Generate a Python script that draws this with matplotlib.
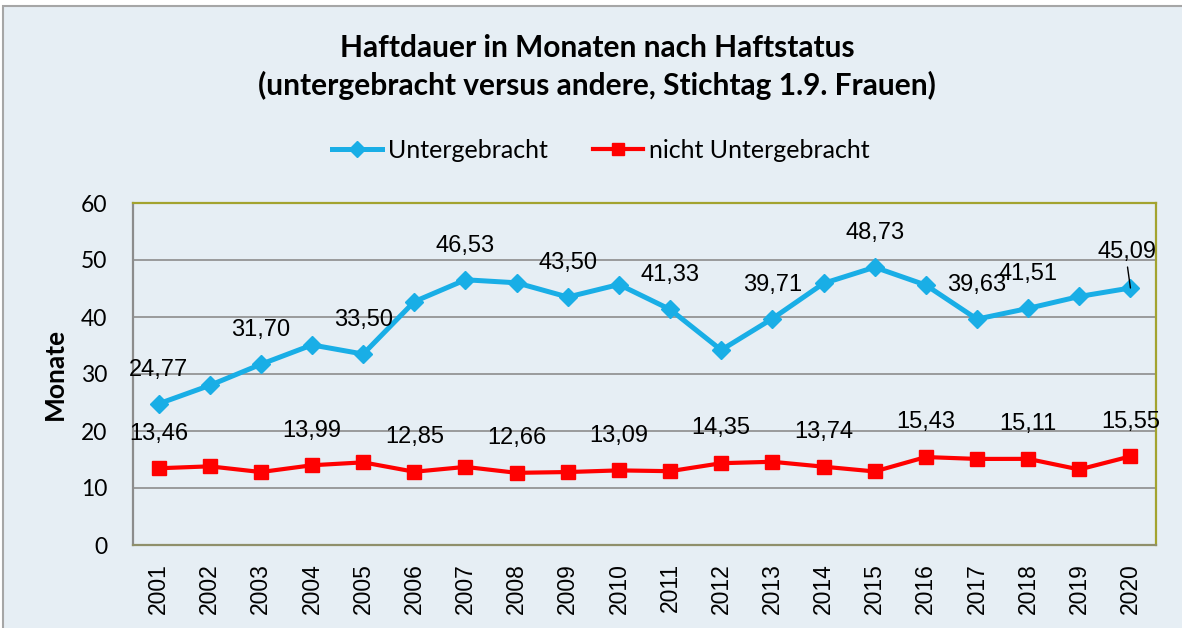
import matplotlib
matplotlib.use("Agg")
import matplotlib.pyplot as plt
from matplotlib.patches import Rectangle
from matplotlib.lines import Line2D

# --- data -------------------------------------------------------------
years = ["2001", "2002", "2003", "2004", "2005", "2006", "2007", "2008", "2009", "2010",
         "2011", "2012", "2013", "2014", "2015", "2016", "2017", "2018", "2019", "2020"]
untergebracht = [24.77, 28.0, 31.70, 35.1, 33.50, 42.7, 46.53, 46.0, 43.50, 45.7,
                 41.33, 34.2, 39.71, 45.9, 48.73, 45.6, 39.63, 41.51, 43.6, 45.09]
nicht_untergebracht = [13.46, 13.8, 12.8, 13.99, 14.5, 12.85, 13.7, 12.66, 12.8, 13.09,
                       12.95, 14.35, 14.6, 13.74, 12.9, 15.43, 15.1, 15.11, 13.25, 15.55]
# indices of points carrying a value label
labels_unter = [0, 2, 4, 6, 8, 10, 12, 14, 16, 17, 19]
labels_nicht = [0, 3, 5, 7, 9, 11, 13, 15, 17, 19]

title_lines = ["Haftdauer in Monaten nach Haftstatus",
               "(untergebracht versus andere, Stichtag 1.9. Frauen)"]
series_names = ["Untergebracht", "nicht Untergebracht"]
y_label = "Monate"
y_ticks = [0, 10, 20, 30, 40, 50, 60]

# --- styling ----------------------------------------------------------
BG = "#E6EEF4"
BLUE = "#19AEE6"
RED = "#FF0000"
GRID = "#8C8C8C"
OLIVE = "#A3A32E"
NUM_FONT = "Liberation Sans"
TXT_FONT = "Lato"

W, H = 1182, 628
fig = plt.figure(figsize=(W / 100, H / 100), dpi=100, facecolor="white")

# chart frame
fig.patches.append(Rectangle((3 / W, -0.1), 1.2, 1 - 6 / H + 0.1, transform=fig.transFigure,
                             facecolor=BG, edgecolor="#A6A6A6", linewidth=1.5, zorder=-5))

left, right, top, bottom = 133, 1156, 203, 545
ax = fig.add_axes([left / W, 1 - bottom / H, (right - left) / W, (bottom - top) / H])
ax.set_zorder(2)
ax.set_facecolor(BG)

x = list(range(len(years)))
ax.plot(x, untergebracht, color=BLUE, lw=3.6, marker="D", markersize=9.5,
        markeredgecolor=BLUE, zorder=4)
ax.plot(x, nicht_untergebracht, color=RED, lw=3.0, marker="s", markersize=10,
        markeredgecolor=RED, zorder=4)

ax.set_xlim(-0.5, len(years) - 0.5)
ax.set_ylim(0, 60)
ax.set_yticks(y_ticks)
ax.set_yticklabels([str(t) for t in y_ticks], fontname=TXT_FONT, fontsize=16.5)
ax.set_xticks(x)
ax.set_xticklabels(years, rotation=90, fontname=NUM_FONT, fontsize=16.5)
ax.tick_params(axis="y", length=0, pad=18.5)
ax.tick_params(axis="x", length=0, pad=13)
ax.yaxis.grid(True, color=GRID, lw=1.2)
ax.set_axisbelow(True)

for side in ("top", "right"):
    ax.spines[side].set_color(OLIVE)
    ax.spines[side].set_linewidth(1.6)
ax.spines["left"].set_color(GRID)
ax.spines["left"].set_linewidth(1.6)
ax.spines["bottom"].set_color("#8F8F6A")
ax.spines["bottom"].set_linewidth(1.6)

ax.set_ylabel(y_label, fontname=TXT_FONT, fontweight="bold", fontsize=19)
ax.yaxis.set_label_coords((67 - left) / (right - left), 0.5)


def fmt(v):
    return f"{v:.2f}".replace(".", ",")


LABEL_SIZE = 17
for i in labels_unter:
    if i == len(years) - 1:
        ax.annotate(fmt(untergebracht[i]), (i, untergebracht[i]), xytext=(-2.5, 26),
                    textcoords="offset points", ha="center", va="center",
                    fontname=NUM_FONT, fontsize=LABEL_SIZE, zorder=6,
                    arrowprops=dict(arrowstyle="-", color="black", lw=1,
                                    relpos=(0.5, 0.0), shrinkA=1, shrinkB=0))
    else:
        ax.annotate(fmt(untergebracht[i]), (i, untergebracht[i]), xytext=(0, 24.5),
                    textcoords="offset points", ha="center", va="center",
                    fontname=NUM_FONT, fontsize=LABEL_SIZE, zorder=6)
for i in labels_nicht:
    ax.annotate(fmt(nicht_untergebracht[i]), (i, nicht_untergebracht[i]), xytext=(0, 25),
                textcoords="offset points", ha="center", va="center",
                fontname=NUM_FONT, fontsize=LABEL_SIZE, zorder=6)

fig.text(597 / W, 1 - 48 / H, title_lines[0], ha="center", va="center", fontname=TXT_FONT,
         fontweight="bold", fontsize=21.5)
fig.text(597 / W, 1 - 85 / H, title_lines[1], ha="center", va="center", fontname=TXT_FONT,
         fontweight="bold", fontsize=21.5)

handles = [Line2D([], [], color=BLUE, lw=3.6, marker="D", markersize=8),
           Line2D([], [], color=RED, lw=3.0, marker="s", markersize=9)]
fig.legend(handles, series_names, loc="center", bbox_to_anchor=(601 / W, 1 - 150 / H),
           ncol=2, frameon=False, prop={"family": TXT_FONT, "size": 18},
           handlelength=2.0, handletextpad=0.25, columnspacing=1.8)

fig.savefig("out.png", dpi=100, facecolor="white")
